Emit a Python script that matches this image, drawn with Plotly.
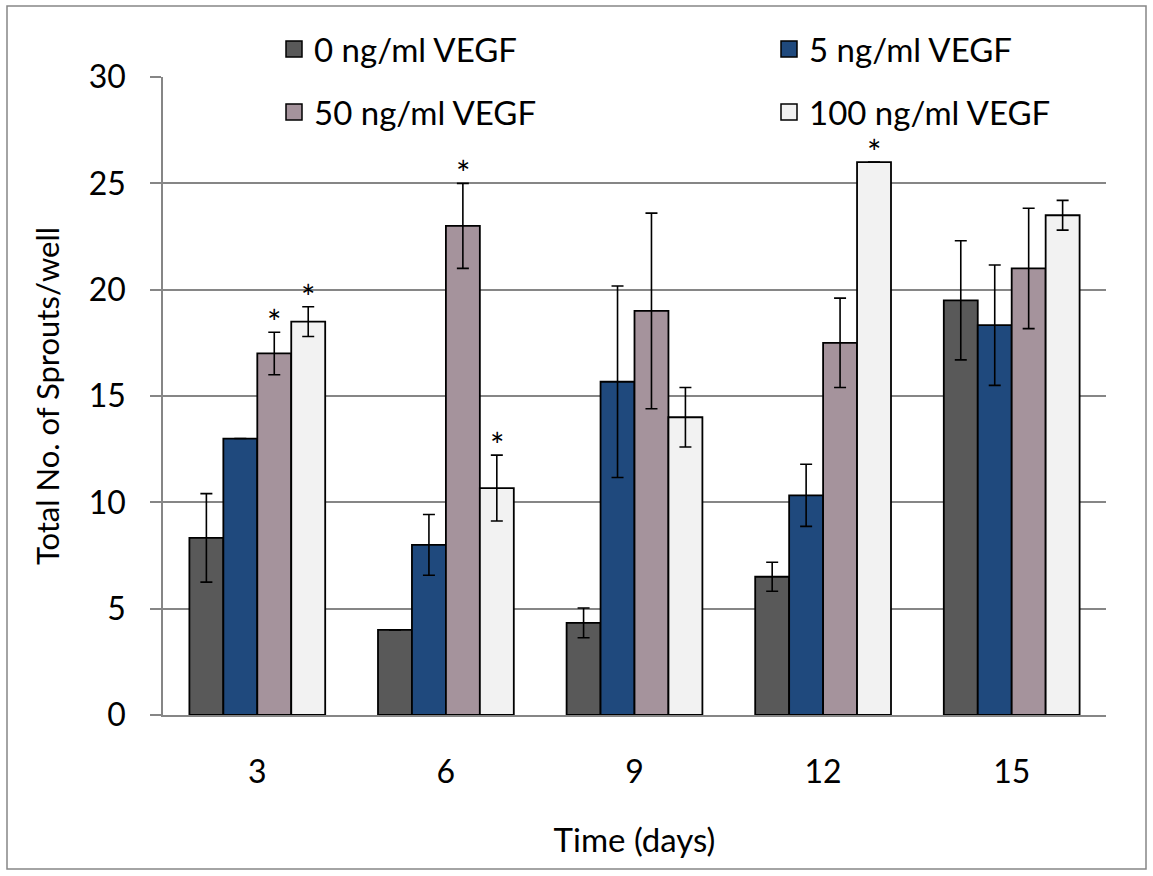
import plotly.graph_objects as go

days = ["3", "6", "9", "12", "15"]
series_names = ["0 ng/ml VEGF", "5 ng/ml VEGF", "50 ng/ml VEGF", "100 ng/ml VEGF"]
vals_0 = [8.33, 4.0, 4.33, 6.5, 19.5]
vals_5 = [13.0, 8.0, 15.67, 10.33, 18.33]
vals_50 = [17.0, 23.0, 19.0, 17.5, 21.0]
vals_100 = [18.5, 10.67, 14.0, 26.0, 23.5]
err_0 = [2.08, None, 0.7, 0.68, 2.8]
err_5 = [None, 1.43, 4.5, 1.46, 2.83]
err_50 = [1.0, 2.0, 4.6, 2.1, 2.83]
err_100 = [0.7, 1.55, 1.4, None, 0.7]
# (series index, day index) with significance asterisk
stars = [(2, 0), (3, 0), (2, 1), (3, 1), (3, 3)]

colors = ["#595959", "#1F497D", "#A5939C", "#F2F2F2"]
all_vals = [vals_0, vals_5, vals_50, vals_100]
all_errs = [err_0, err_5, err_50, err_100]
legend_ids = ["legend", "legend2", "legend3", "legend4"]

FONT = "Lato, Open Sans, sans-serif"
GRID = "#868686"
BARGAP = 0.28

L, R, T, B = 163, 47, 77, 161
PW, PH = 1153 - L - R, 876 - T - B
def px_x(p):
    return (p - L) / PW
def px_y(p):
    return (876 - B - p) / PH

fig = go.Figure()
for k in range(4):
    fig.add_trace(go.Bar(
        x=days, y=all_vals[k], name=series_names[k],
        marker=dict(color=colors[k], line=dict(color="black", width=1.8)),
        error_y=dict(type="data", array=all_errs[k], visible=True,
                     color="black", thickness=1.6, width=6),
        showlegend=False,
    ))
    # legend entry
    fig.add_trace(go.Scatter(
        x=[None], y=[None], mode="markers", name=series_names[k],
        marker=dict(symbol="square", size=20, color=colors[k],
                    line=dict(color="black", width=1.5)),
        legend=legend_ids[k], showlegend=True,
    ))

w = (1 - BARGAP) / 4
for (k, d) in stars:
    e = all_errs[k][d] or 0
    fig.add_annotation(
        x=d + (k - 1.5) * w, y=all_vals[k][d] + e, xref="x", yref="y",
        text="*", showarrow=False, yanchor="bottom", yshift=-12,
        font=dict(family=FONT, size=34, color="black"),
    )

# outer frame
fig.add_shape(type="rect", xref="paper", yref="paper",
              x0=px_x(7), x1=px_x(1146), y0=px_y(869), y1=px_y(6),
              line=dict(color=GRID, width=1.5), layer="below")

leg_pos = {"legend": (274, 49), "legend2": (769, 49),
           "legend3": (274, 112), "legend4": (769, 112)}
legend_layout = {}
for lid, (lx, ly) in leg_pos.items():
    legend_layout[lid] = dict(orientation="h", x=px_x(lx), y=px_y(ly),
                              xanchor="left", yanchor="middle",
                              font=dict(size=33), bgcolor="rgba(0,0,0,0)",
                              itemclick=False, itemdoubleclick=False)

fig.update_layout(
    width=1153, height=876,
    margin=dict(l=L, r=R, t=T, b=B),
    paper_bgcolor="white", plot_bgcolor="white",
    barmode="group", bargap=BARGAP, bargroupgap=0,
    font=dict(family=FONT, size=32, color="black"),
    xaxis=dict(type="category", showline=True, linecolor=GRID, linewidth=1.5,
               ticks="", tickfont=dict(size=32), showgrid=False,
               ticklabelstandoff=28,
               title=dict(text="Time (days)", font=dict(size=33), standoff=40)),
    yaxis=dict(range=[0, 30], tickvals=[0, 5, 10, 15, 20, 25, 30],
               showline=True, linecolor=GRID, linewidth=1.5,
               ticks="outside", ticklen=11, tickcolor=GRID, tickwidth=1.5,
               showgrid=True, gridcolor=GRID, gridwidth=1.5,
               tickfont=dict(size=32), zeroline=False,
               ticklabelstandoff=18,
               title=dict(text="Total No. of Sprouts/well", font=dict(size=31),
                          standoff=20)),
    **legend_layout,
)

fig.write_html("out.html")
